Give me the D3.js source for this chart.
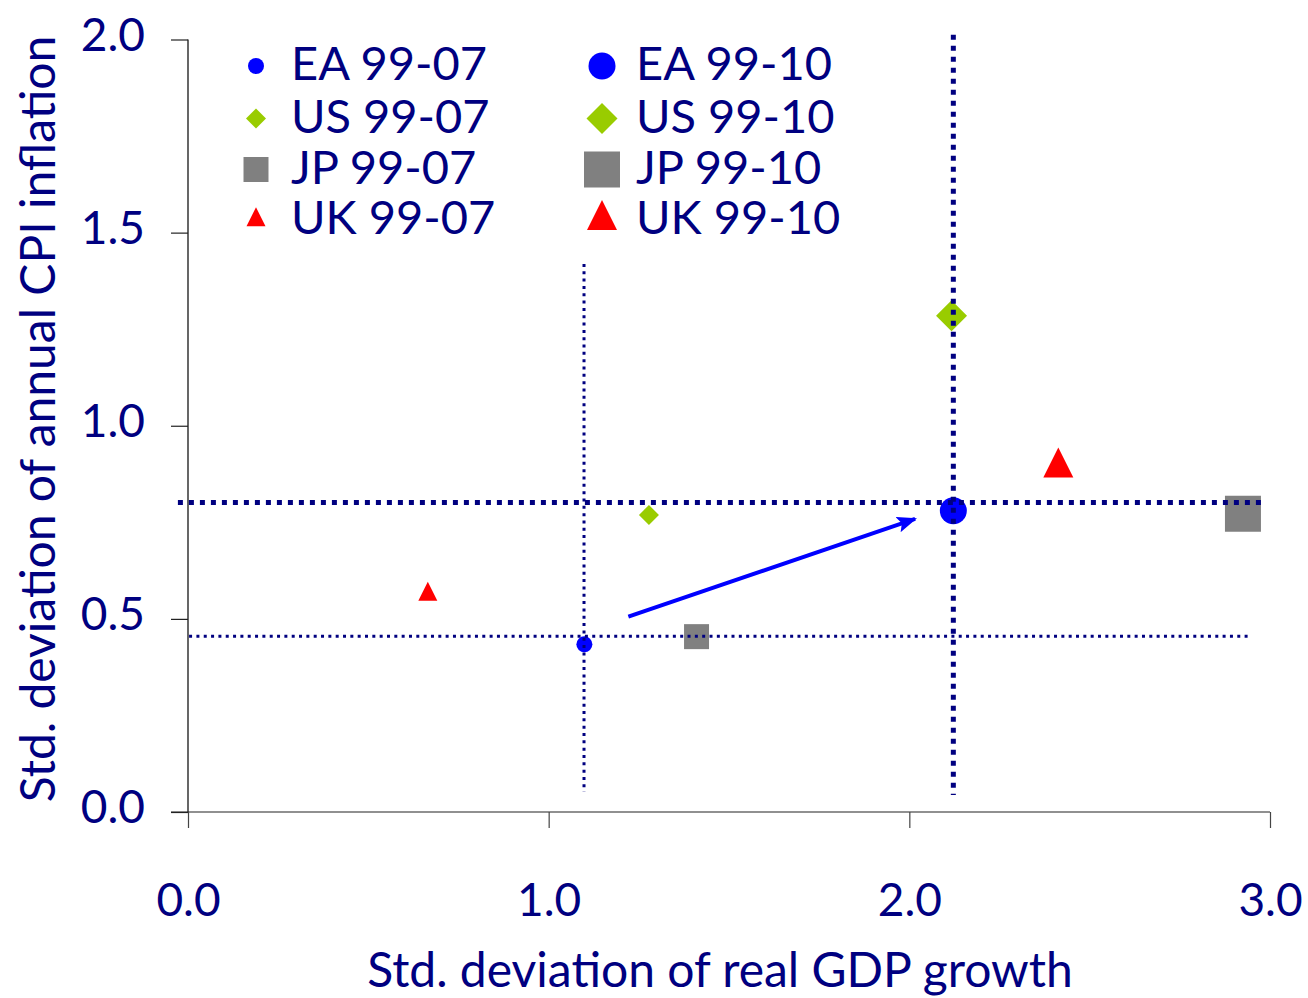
<!DOCTYPE html>
<html>
<head>
<meta charset="utf-8">
<script src="https://cdn.jsdelivr.net/npm/d3@7"></script>
<style>
  html, body { margin: 0; padding: 0; background: #fff; }
  svg { display: block; }
  text { font-family: Lato, "Open Sans", sans-serif; fill: #000080; }
</style>
</head>
<body>
<svg id="chart" width="1308" height="998"></svg>
<script>
// ---- data ----
const seriesNames = ["EA 99-07", "EA 99-10", "US 99-07", "US 99-10", "JP 99-07", "JP 99-10", "UK 99-07", "UK 99-10"];
const gdpStd = [1.099, 2.122, 1.278, 2.117, 1.410, 2.925, 0.665, 2.413];
const cpiStd = [0.434, 0.780, 0.769, 1.285, 0.454, 0.772, 0.563, 0.892];
const xTicks = [0, 1, 2, 3];
const yTicks = [0, 0.5, 1.0, 1.5, 2.0];
// reference lines (data units)
const vLineX = [1.098, 2.122];
const vLineY0 = [0.052, 0.044];
const vLineY1 = [1.419, 2.012];
const hLineY = [0.801, 0.455];
const hLineX0 = [-0.028, 0.003];
const hLineX1 = [2.98, 2.94];
// arrow from 99-07 to 99-10 (data units)
const arrowFrom = [1.221, 0.506];
const arrowTo = [2.016, 0.759];

// ---- styles ----
const shapes = ["circle", "circle", "diamond", "diamond", "square", "square", "triangle", "triangle"];
const colors = ["#0000FF", "#0000FF", "#99CC00", "#99CC00", "#808080", "#808080", "#FF0000", "#FF0000"];
const markerW = [16, 27, 20, 31, 25, 36, 19, 30];
const lineW = [3, 5];        // thin / thick for vertical lines
const hLineW = [5, 3];

const svg = d3.select("#chart");
const FONT = 46;
const TITLE_FONT = 48;

const x = d3.scaleLinear().domain([0, 3]).range([188, 1270]);
const y = d3.scaleLinear().domain([0, 2]).range([812, 39.5]);

function shapePath(shape, w) {
  const p = d3.path();
  const h = w / 2;
  if (shape === "circle") {
    p.arc(0, 0, h, 0, 2 * Math.PI);
  } else if (shape === "square") {
    p.rect(-h, -h, w, w);
  } else if (shape === "diamond") {
    p.moveTo(0, -h); p.lineTo(h, 0); p.lineTo(0, h); p.lineTo(-h, 0); p.closePath();
  } else if (shape === "triangle") {
    p.moveTo(0, -2 * w / 3); p.lineTo(h, w / 3); p.lineTo(-h, w / 3); p.closePath();
  }
  return p.toString();
}

// ---- axes ----
const yAxis = d3.axisLeft(y).tickValues(yTicks).tickFormat(d3.format(".1f")).tickSize(17).tickPadding(26);
const gy = svg.append("g").attr("transform", "translate(188,0)").call(yAxis);
gy.select(".domain").attr("stroke", "#000").attr("stroke-width", 1.2).attr("d", `M0,${y(2)}V${y(0)}`);
gy.selectAll(".tick line").attr("stroke", "#222").attr("stroke-width", 1.2);
gy.selectAll(".tick text").attr("font-size", FONT).attr("fill", "#000080")
  .attr("font-family", "Lato, sans-serif").attr("dy", null).attr("y", 10.5)
  .attr("dominant-baseline", "alphabetic");

const xAxis = d3.axisBottom(x).tickValues(xTicks).tickFormat(d3.format(".1f")).tickSize(16).tickPadding(0);
const gx = svg.append("g").attr("transform", "translate(0,812)").call(xAxis);
gx.select(".domain").attr("stroke", "#222").attr("stroke-width", 1.2).attr("d", `M171,0H${x(3)}`);
gx.selectAll(".tick line").attr("stroke", "#444").attr("stroke-width", 1.2);
gx.selectAll(".tick text").attr("font-size", FONT).attr("fill", "#000080")
  .attr("font-family", "Lato, sans-serif").attr("dy", null).attr("y", 104)
  .attr("dominant-baseline", "alphabetic");

// axis titles
svg.append("text").attr("x", 720).attr("y", 987).attr("text-anchor", "middle")
  .attr("font-size", TITLE_FONT).text("Std. deviation of real GDP growth");
svg.append("text").attr("transform", "translate(55,419) rotate(-90)").attr("text-anchor", "middle")
  .attr("font-size", TITLE_FONT).text("Std. deviation of annual CPI inflation");

// ---- markers ----
const pts = seriesNames.map((n, i) => ({ n, gx: gdpStd[i], cy: cpiStd[i], shape: shapes[i], color: colors[i], w: markerW[i] }));
svg.append("g").selectAll("path").data(pts).join("path")
  .attr("transform", d => `translate(${x(d.gx)},${y(d.cy)})`)
  .attr("d", d => shapePath(d.shape, d.w))
  .attr("fill", d => d.color);

// ---- reference lines (on top of markers) ----
const refG = svg.append("g").attr("stroke", "#000080").attr("fill", "none");
vLineX.forEach((vx, i) => {
  const w = lineW[i];
  refG.append("line").attr("x1", x(vx)).attr("x2", x(vx)).attr("y1", y(vLineY1[i])).attr("y2", y(vLineY0[i]))
    .attr("stroke-width", w).attr("stroke-dasharray", w === 5 ? "5,6" : "3,4.33");
});
hLineY.forEach((hy, i) => {
  const w = hLineW[i];
  refG.append("line").attr("y1", y(hy)).attr("y2", y(hy)).attr("x1", x(hLineX0[i])).attr("x2", x(hLineX1[i]))
    .attr("stroke-width", w).attr("stroke-dasharray", w === 5 ? "5,6" : "3,4.33");
});

// ---- arrow ----
const defs = svg.append("defs");
defs.append("marker").attr("id", "ah").attr("markerUnits", "userSpaceOnUse")
  .attr("viewBox", "0 0 20 16").attr("refX", 18).attr("refY", 8)
  .attr("markerWidth", 20).attr("markerHeight", 16).attr("orient", "auto")
  .append("path").attr("d", "M0,0L20,8L0,16L4,8Z").attr("fill", "#0000FF");
svg.append("line")
  .attr("x1", x(arrowFrom[0])).attr("y1", y(arrowFrom[1]))
  .attr("x2", x(arrowTo[0])).attr("y2", y(arrowTo[1]))
  .attr("stroke", "#0000FF").attr("stroke-width", 4).attr("marker-end", "url(#ah)");

// ---- legend ----
const legColX = [256, 602];
const legTextX = [291, 636];
const legRowY = [66, 118.5, 169.5, 220];
const leg = svg.append("g");
pts.forEach((d, i) => {
  const col = i % 2, row = Math.floor(i / 2);
  leg.append("path").attr("transform", `translate(${legColX[col]},${legRowY[row]})`)
    .attr("d", shapePath(d.shape, d.w)).attr("fill", d.color);
  leg.append("text").attr("x", legTextX[col]).attr("y", legRowY[row] + 14)
    .attr("font-size", 47).text(d.n);
});
</script>
</body>
</html>
